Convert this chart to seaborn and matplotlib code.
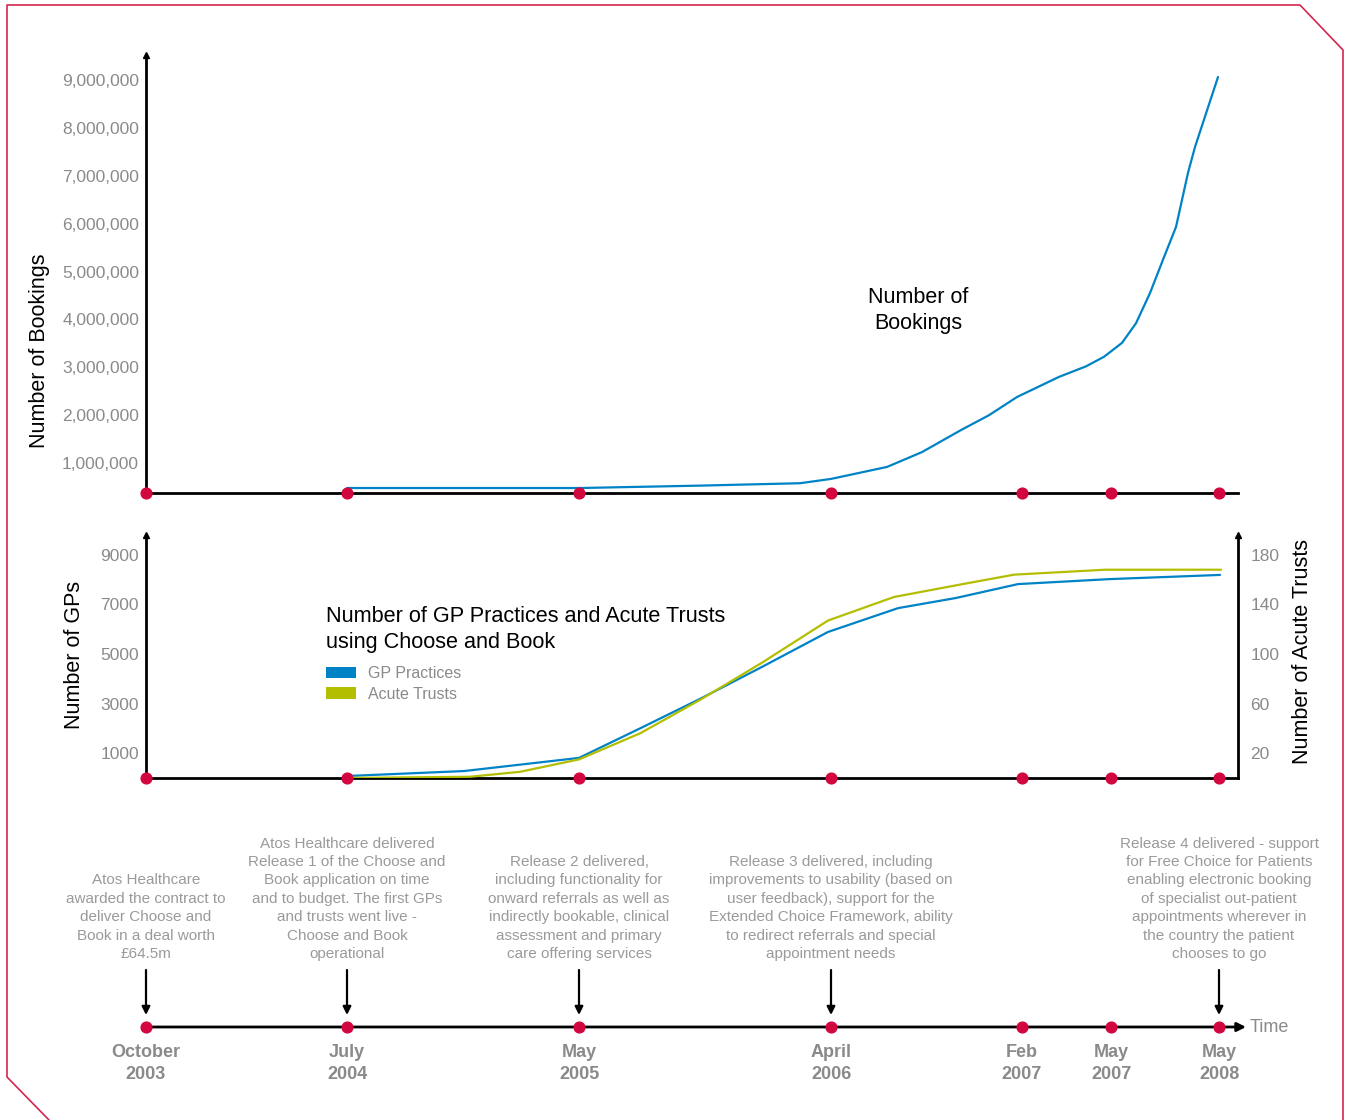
import matplotlib
matplotlib.use("Agg")
import matplotlib.pyplot as plt
import seaborn as sns
import pandas as pd
from matplotlib.lines import Line2D
from matplotlib.patches import Patch

# ---------------- data ----------------
# milestone positions on the (non-linear) timeline axis
milestone_pos = [0.0, 2.01, 4.33, 6.85, 8.76, 9.65, 10.73]
milestone_labels = ["October\n2003", "July\n2004", "May\n2005", "April\n2006",
                    "Feb\n2007", "May\n2007", "May\n2008"]

# Number of bookings (millions)
book_x = [2.01, 4.34, 5.54, 6.54, 6.85, 7.41, 7.76, 8.15, 8.43, 8.71, 9.13,
          9.40, 9.58, 9.76, 9.90, 10.04, 10.18, 10.30, 10.42, 10.49, 10.72]
book_m = [0.48, 0.48, 0.53, 0.58, 0.67, 0.92, 1.23, 1.69, 2.00, 2.38, 2.80,
          3.02, 3.22, 3.51, 3.92, 4.55, 5.30, 5.93, 7.06, 7.60, 9.06]

# GP practices
gp_x = [2.01, 3.18, 4.33, 4.94, 5.54, 6.16, 6.82, 7.52, 8.10, 8.72, 9.63, 10.74]
gp_n = [80, 280, 810, 2000, 3190, 4480, 5890, 6850, 7260, 7820, 8020, 8190]

# Acute trusts
tr_x = [2.01, 3.24, 3.74, 4.33, 4.94, 5.54, 6.16, 6.82, 7.48, 8.14, 8.68, 9.59, 10.75]
tr_n = [0, 1, 5, 15, 36, 63, 93, 127, 146, 156, 164, 168, 168]

book_ticks = [1e6, 2e6, 3e6, 4e6, 5e6, 6e6, 7e6, 8e6, 9e6]
gp_ticks = [1000, 3000, 5000, 7000, 9000]
trust_ticks = [20, 60, 100, 140, 180]

annotations = {
    0: "Atos Healthcare\nawarded the contract to\ndeliver Choose and\nBook in a deal worth\n£64.5m",
    1: "Atos Healthcare delivered\nRelease 1 of the Choose and\nBook application on time\nand to budget. The first GPs\nand trusts went live -\nChoose and Book\noperational",
    2: "Release 2 delivered,\nincluding functionality for\nonward referrals as well as\nindirectly bookable, clinical\nassessment and primary\ncare offering services",
    3: "Release 3 delivered, including\nimprovements to usability (based on\nuser feedback), support for the\nExtended Choice Framework, ability\nto redirect referrals and special\nappointment needs",
    6: "Release 4 delivered - support\nfor Free Choice for Patients\nenabling electronic booking\nof specialist out-patient\nappointments wherever in\nthe country the patient\nchooses to go",
}

# ---------------- style ----------------
sns.set_theme(style="white")
plt.rcParams["font.family"] = ["Liberation Sans", "DejaVu Sans"]

BLUE = "#0083C6"
YELLOW = "#B4BE00"
RED = "#D2073F"
GRAY = "#8a8a8a"
LGRAY = "#9a9a9a"

W, H = 1347, 1120
fig = plt.figure(figsize=(W / 100, H / 100), dpi=100)
fig.patch.set_facecolor("white")

def fx(px):
    return px / W

def fy(py):
    return 1 - py / H

XL = (0, 10.92)

def axes_px(l, t, r, b):
    return fig.add_axes([fx(l), fy(b), fx(r) - fx(l), fy(t) - fy(b)])

# ---------------- top chart: bookings ----------------
ax1 = axes_px(146, 55, 1238, 493)
ax1.set_facecolor("none")
df_b = pd.DataFrame({"x": book_x, "v": [m * 1e6 for m in book_m]})
sns.lineplot(data=df_b, x="x", y="v", ax=ax1, color=BLUE, lw=1.6)
ax1.set_xlim(*XL)
ax1.set_ylim(0.376e6, 9.52e6)
ax1.set_yticks(book_ticks)
ax1.set_yticklabels([f"{int(t):,}" for t in book_ticks], color=GRAY, fontsize=12.5)
ax1.set_xticks([])
ax1.set_xlabel("")
ax1.set_ylabel("")
ax1.tick_params(axis="y", length=0, pad=5)
for s in ["top", "right"]:
    ax1.spines[s].set_visible(False)
for s in ["left", "bottom"]:
    ax1.spines[s].set_color("black")
    ax1.spines[s].set_linewidth(2.0)
ax1.plot([0], [1], marker="^", color="black", ms=5, transform=ax1.get_xaxis_transform(), clip_on=False)
ax1.scatter(milestone_pos, [0.376e6] * len(milestone_pos), s=60, color=RED, zorder=5, clip_on=False)
ax1.text(7.72, 4.18e6, "Number of\nBookings", ha="center", va="center", fontsize=15.5,
         color="black", linespacing=1.33)

fig.text(fx(40), fy(351), "Number of Bookings", rotation=90, ha="center", va="center",
         fontsize=15.5, color="black")

# ---------------- middle chart: GPs / trusts ----------------
ax2 = axes_px(146, 535, 1238, 778)
ax2.set_facecolor("none")
df_g = pd.DataFrame({"x": gp_x, "v": gp_n})
sns.lineplot(data=df_g, x="x", y="v", ax=ax2, color=BLUE, lw=1.6, zorder=3)
ax2.set_xlim(*XL)
ax2.set_ylim(0, 9800)
ax2.set_yticks(gp_ticks)
ax2.set_yticklabels([str(t) for t in gp_ticks], color=GRAY, fontsize=12.5)
ax2.set_xticks([])
ax2.set_xlabel("")
ax2.set_ylabel("")
ax2.tick_params(axis="y", length=0, pad=5)

ax2r = ax2.twinx()
df_t = pd.DataFrame({"x": tr_x, "v": tr_n})
sns.lineplot(data=df_t, x="x", y="v", ax=ax2r, color=YELLOW, lw=1.6, zorder=2)
ax2r.set_ylim(0, 196)
ax2r.set_yticks(trust_ticks)
ax2r.set_yticklabels([str(t) for t in trust_ticks], color=GRAY, fontsize=12.5)
ax2r.set_xlabel("")
ax2r.set_ylabel("")
ax2r.tick_params(axis="y", length=0, pad=9)
ax2r.set_xlim(*XL)

for a in (ax2, ax2r):
    a.spines["top"].set_visible(False)
    for s in ["left", "bottom", "right"]:
        a.spines[s].set_color("black")
        a.spines[s].set_linewidth(2.0)
ax2.spines["right"].set_visible(False)
ax2r.spines["left"].set_visible(False)
ax2r.spines["bottom"].set_visible(False)
ax2.plot([0], [1], marker="^", color="black", ms=5, transform=ax2.get_xaxis_transform(), clip_on=False)
ax2.plot([1], [1], marker="^", color="black", ms=5, transform=ax2.transAxes, clip_on=False)
ax2r.scatter(milestone_pos, [0] * len(milestone_pos), s=60, color=RED, zorder=6, clip_on=False)

ax2.text(1.80, 5990, "Number of GP Practices and Acute Trusts\nusing Choose and Book",
         ha="left", va="center", fontsize=15.6, color="black", linespacing=1.33)
handles = [Patch(facecolor=BLUE, edgecolor="none", label="GP Practices"),
           Patch(facecolor=YELLOW, edgecolor="none", label="Acute Trusts")]
leg = fig.legend(handles=handles, loc="upper left", bbox_to_anchor=(fx(326), fy(666)),
                 bbox_transform=fig.transFigure, frameon=False, fontsize=11.5,
                 handlelength=1.9, handleheight=0.7, handletextpad=0.7,
                 labelspacing=0.35, borderpad=0, borderaxespad=0)
for t in leg.get_texts():
    t.set_color(GRAY)

fig.text(fx(75), fy(655), "Number of GPs", rotation=90, ha="center", va="center",
         fontsize=15.5, color="black")
fig.text(fx(1303), fy(652), "Number of Acute Trusts", rotation=90, ha="center", va="center",
         fontsize=15.5, color="black")

# ---------------- timeline ----------------
ax3 = axes_px(146, 800, 1238, 1100)
ax3.set_xlim(*XL)
ax3.set_ylim(1100, 800)
ax3.axis("off")
ax3.annotate("", xy=(11.0, 1027), xytext=(0, 1027),
             arrowprops=dict(arrowstyle="-|>", color="black", lw=2.0, mutation_scale=13,
                             shrinkA=0, shrinkB=0), annotation_clip=False)
ax3.scatter(milestone_pos, [1027] * len(milestone_pos), s=60, color=RED, zorder=5, clip_on=False)
ax3.text(11.04, 1028, "Time", ha="left", va="center", fontsize=13, color=GRAY)
for pos, lab in zip(milestone_pos, milestone_labels):
    ax3.text(pos, 1063.5, lab, ha="center", va="center", fontsize=13, color=GRAY,
             fontweight="bold", linespacing=1.35)
for idx, txt in annotations.items():
    x = milestone_pos[idx]
    ax3.text(x, 961, txt, ha="center", va="bottom", fontsize=11, color=LGRAY,
             linespacing=1.4)
    ax3.annotate("", xy=(x, 1015), xytext=(x, 970),
                 arrowprops=dict(arrowstyle="-|>", color="black", lw=1.6, mutation_scale=12,
                                 shrinkA=0, shrinkB=0), annotation_clip=False)

# ---------------- frame ----------------
frame_px = [(49, 1120), (7, 1077), (7, 5), (1300, 5), (1343, 50), (1343, 1120)]
fig.add_artist(Line2D([fx(p[0]) for p in frame_px], [fy(p[1]) for p in frame_px],
                      color="#D4264E", lw=1.2, transform=fig.transFigure))

fig.savefig("out.png", dpi=100, facecolor="white")
